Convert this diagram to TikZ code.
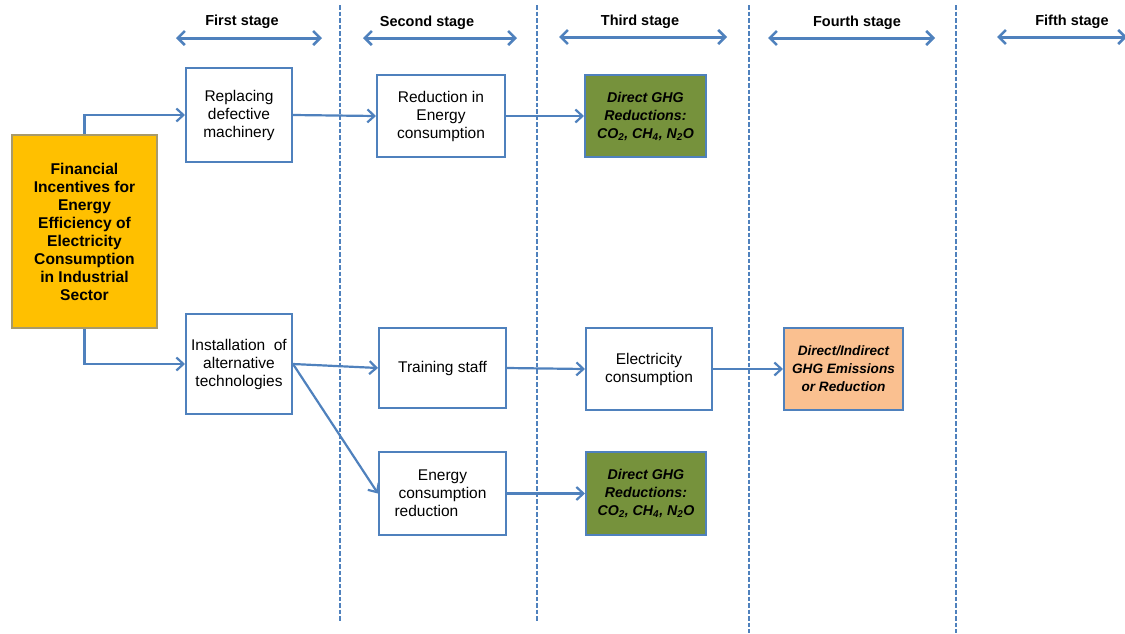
\documentclass[tikz,border=0pt]{standalone}
\usepackage{fontspec}
\setmainfont{Liberation Sans}
\usetikzlibrary{arrows.meta}
\definecolor{lineblue}{HTML}{4F81BD}
\definecolor{gold}{HTML}{FFC000}
\definecolor{goldedge}{HTML}{A89A6A}
\definecolor{olive}{HTML}{76923C}
\definecolor{peach}{HTML}{FAC090}
\begin{document}
\begin{tikzpicture}[x=1pt,y=-1pt,
  box/.style={draw=lineblue,line width=2pt,fill=white,align=center,
    inner sep=2pt,font=\fontsize{15.5}{18}\selectfont},
  greenbox/.style={box,fill=olive,font=\fontsize{14.2}{18}\selectfont\bfseries\itshape},
  peachbox/.style={box,fill=peach,font=\fontsize{13.6}{18}\selectfont\bfseries\itshape},
  flow/.style={draw=lineblue,line width=2.2pt,-{Straight Barb[length=7pt,width=13pt,line width=2.2pt]}},
  span/.style={draw=lineblue,line width=3pt,{Straight Barb[length=7pt,width=14pt,line width=2.6pt]}-{Straight Barb[length=7pt,width=14pt,line width=2.6pt]}},
  divider/.style={draw=lineblue,line width=2pt,dash pattern=on 4.5pt off 2pt},
  stagelabel/.style={font=\fontsize{14.5}{16}\selectfont\bfseries}]
\useasboundingbox (0,0) rectangle (1125,633);

% stage dividers
\coordinate (d1t) at (340,5);   \coordinate (d1b) at (340,622);
\coordinate (d2t) at (537,5);   \coordinate (d2b) at (537,622);
\coordinate (d3t) at (749,5);   \coordinate (d3b) at (749,633);
\coordinate (d4t) at (956,5);   \coordinate (d4b) at (956,633);
\foreach \n in {1,...,4} \draw[divider] (d\n t) -- (d\n b);

% stage headings with span arrows
\node[stagelabel] (s1) at (242,22) {First stage};
\node[stagelabel] (s2) at (427,23) {Second stage};
\node[stagelabel] (s3) at (640,22) {Third stage};
\node[stagelabel] (s4) at (857,23) {Fourth stage};
\node[stagelabel] (s5) at (1072,22) {Fifth stage};
\coordinate (a1l) at (176,38);  \coordinate (a1r) at (322,38);
\coordinate (a2l) at (363,38);  \coordinate (a2r) at (517,38);
\coordinate (a3l) at (559,37);  \coordinate (a3r) at (727,37);
\coordinate (a4l) at (768,38);  \coordinate (a4r) at (935,38);
\coordinate (a5l) at (997,37);  \coordinate (a5r) at (1127,37);
\foreach \n in {1,...,5} \draw[span] (a\n l) -- (a\n r);

% boxes
\node[box,draw=goldedge,fill=gold,minimum width=145pt,minimum height=193pt,
      font=\fontsize{15.6}{18}\selectfont\bfseries] (fin) at (84.5,231.5)
  {Financial\\Incentives for\\Energy\\Efficiency of\\Electricity\\Consumption\\in Industrial\\Sector};
\node[box,minimum width=106pt,minimum height=94pt] (rep) at (239,115)
  {Replacing\\defective\\machinery};
\node[box,minimum width=128pt,minimum height=82pt] (red) at (441,116)
  {Reduction in\\Energy\\consumption};
\node[greenbox,minimum width=121pt,minimum height=82pt] (ghga) at (645.5,116)
  {Direct GHG\\Reductions:\\CO\textsubscript{2}, CH\textsubscript{4}, N\textsubscript{2}O};
\node[box,minimum width=106pt,minimum height=100pt] (inst) at (239,364)
  {Installation\ \ of\\alternative\\technologies};
\node[box,minimum width=127pt,minimum height=80pt] (train) at (442.5,368)
  {Training staff};
\node[box,minimum width=126pt,minimum height=82pt] (elec) at (649,369)
  {Electricity\\consumption};
\node[peachbox,minimum width=119pt,minimum height=82pt] (ghgi) at (843.5,369)
  {Direct/Indirect\\GHG Emissions\\or Reduction};
\node[box,minimum width=127pt,minimum height=83pt] (ecr) at (442.5,493.5)
  {Energy\\consumption\\\makebox[96pt][l]{reduction}};
\node[greenbox,minimum width=120pt,minimum height=83pt] (ghgb) at (646,493.5)
  {Direct GHG\\Reductions:\\CO\textsubscript{2}, CH\textsubscript{4}, N\textsubscript{2}O};

% connectors
\draw[flow] (fin.north) |- (rep.west);
\draw[flow] (fin.south) |- (inst.west);
\draw[flow] (rep.east) -- (red.west);
\draw[flow] (red.east) -- (ghga.west);
\draw[flow] (inst.east) -- (train.west);
\draw[flow] (inst.east) -- (ecr.west);
\draw[flow] (train.east) -- (elec.west);
\draw[flow] (elec.east) -- (ghgi.west);
\draw[flow] (ecr.east) -- (ghgb.west);
\end{tikzpicture}
\end{document}
